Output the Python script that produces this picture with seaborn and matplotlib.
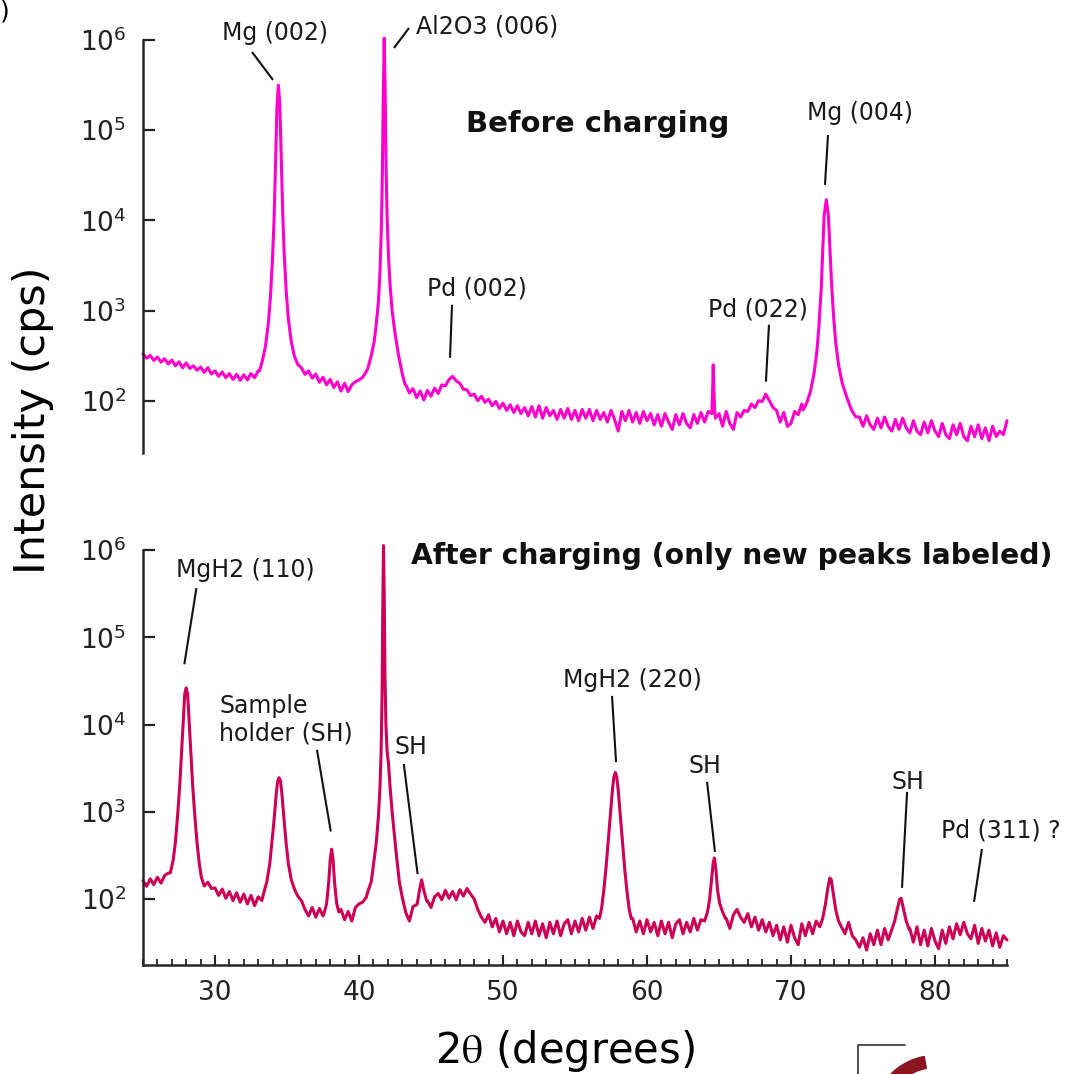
import numpy as np
import pandas as pd
import matplotlib
matplotlib.use("Agg")
import matplotlib.pyplot as plt
from matplotlib.ticker import MultipleLocator, NullLocator, FixedLocator
from matplotlib.lines import Line2D
from matplotlib.patches import Wedge
import seaborn as sns

nan = np.nan

# ---------------- data (2-theta in degrees, intensity in cps) ----------------
scan_start, scan_step = 25.0, 0.25

# Before charging: baseline scan (nan where a peak profile below takes over)
before_base = [
    330, 296, 318, 280,   # 25
    305, 268, 292, 255,   # 26
    282, 244, 270, 232,   # 27
    262, 228, 244, 218,   # 28
    236, 206, 232, 198,   # 29
    214, 186, 208, 180,   # 30
    200, 172, 196, 168,   # 31
    194, 170, 200, 180,   # 32
    214, nan, nan, nan,   # 33
    nan, nan, nan, nan,   # 34
    nan, nan, nan, nan,   # 35
    232, 196, 214, 178,   # 36
    198, 160, 182, 150,   # 37
    172, 140, 162, 128,   # 38
    156, 126, 150, 162,   # 39
    170, 182, nan, nan,   # 40
    nan, nan, nan, nan,   # 41
    nan, nan, nan, nan,   # 42
    nan, 150, 122, 136,   # 43
    108, 128, 102, 130,   # 44
    112, 138, 120, 150,   # 45
    146, 172, 186, 166,   # 46
    156, 134, 132, 114,   # 47
    118, 100, 112, 96,    # 48
    104, 88, 98, 82,      # 49
    94, 78, 90, 74,       # 50
    88, 72, 84, 68,       # 51
    86, 66, 88, 64,       # 52
    84, 68, 78, 62,       # 53
    80, 64, 82, 62,       # 54
    78, 60, 80, 64,       # 55
    80, 60, 78, 62,       # 56
    74, 58, 78, 62,       # 57
    46, 76, 60, 78,       # 58
    58, 74, 56, 76,       # 59
    60, 72, 54, 70,       # 60
    52, 72, 58, 48,       # 61
    70, 54, 72, 56,       # 62
    50, 70, 56, 74,       # 63
    58, 76, nan, 64,      # 64
    72, 52, 76, 56,       # 65
    48, 74, 66, 78,       # 66
    76, 92, 84, 100,      # 67
    98, 118, 100, 84,     # 68
    78, 58, 74, 52,       # 69
    56, 76, 70, 92,       # 70
    nan, nan, nan, nan,   # 71
    nan, nan, nan, nan,   # 72
    nan, nan, nan, nan,   # 73
    nan, nan, nan, 66,    # 74
    52, 68, 54, 48,       # 75
    64, 50, 66, 52,       # 76
    46, 62, 48, 64,       # 77
    50, 44, 60, 46,       # 78
    42, 58, 44, 60,       # 79
    46, 40, 56, 42,       # 80
    38, 54, 42, 56,       # 81
    40, 36, 52, 40,       # 82
    54, 38, 50, 36,       # 83
    52, 40, 46, 42,       # 84
    60,                   # 85
]

# Before charging: peak profiles
mg002_x = [33.1, 33.3, 33.5, 33.7, 33.85, 34.0, 34.1, 34.2, 34.3, 34.4,
           34.5, 34.6, 34.7, 34.8, 34.95, 35.1, 35.3, 35.5, 35.75, 35.95]
mg002_y = [215, 282, 398, 710, 1410, 3980, 10000, 39800, 178000, 316000,
           200000, 50100, 12600, 4470, 1580, 790, 450, 316, 251, 235]
al2o3_top_x = [40.3, 40.6, 40.85, 41.05, 41.2, 41.35, 41.45, 41.55, 41.62, 41.68, 41.75,
               41.82, 41.88, 41.95, 42.05, 42.15, 42.3, 42.5, 42.75, 43.0, 43.2]
al2o3_top_y = [186, 224, 316, 447, 710, 1260, 2510, 7940, 31600, 200000, 1050000,
               251000, 39800, 11200, 3980, 2000, 1000, 562, 316, 200, 151]
spike_x = [64.5, 64.55, 64.6, 64.65, 64.7]
spike_y = [72, 120, 250, 125, 74]
mg004_x = [70.85, 71.1, 71.35, 71.6, 71.8, 71.95, 72.1, 72.2, 72.3, 72.45,
           72.6, 72.7, 72.8, 72.95, 73.1, 73.3, 73.55, 73.85, 74.2, 74.5]
mg004_y = [79, 95, 126, 200, 355, 708, 1778, 4467, 11220, 16982,
           11220, 5012, 2239, 891, 447, 251, 158, 112, 79, 66]

# After charging: baseline scan
after_base = [
    162, 140, 170, 146,   # 25
    178, 152, 186, 198,   # 26
    nan, nan, nan, nan,   # 27
    nan, nan, nan, nan,   # 28
    nan, nan, 156, 132,   # 29
    134, 110, 130, 102,   # 30
    122, 96, 118, 92,     # 31
    114, 88, 110, 84,     # 32
    106, 96, nan, nan,    # 33
    nan, nan, nan, nan,   # 34
    nan, nan, nan, 108,   # 35
    96, 76, 64, 80,       # 36
    62, 78, 64, nan,      # 37
    nan, nan, nan, 76,    # 38
    58, 72, 56, 80,       # 39
    88, 92, 104, nan,     # 40
    nan, nan, nan, nan,   # 41
    nan, nan, nan, nan,   # 42
    nan, 70, 56, 82,      # 43
    86, nan, nan, 96,     # 44
    80, 106, 116, 98,     # 45
    126, 102, 122, 98,    # 46
    128, 108, 132, 114,   # 47
    100, 76, 62, 54,      # 48
    66, 48, 60, 42,       # 49
    56, 40, 54, 38,       # 50
    56, 42, 38, 54,       # 51
    40, 56, 38, 52,       # 52
    36, 54, 40, 56,       # 53
    38, 52, 58, 40,       # 54
    56, 42, 60, 44,       # 55
    62, 46, 64, nan,      # 56
    nan, nan, nan, nan,   # 57
    nan, nan, nan, nan,   # 58
    60, 42, 56, 40,       # 59
    58, 42, 54, 38,       # 60
    56, 40, 54, 36,       # 61
    52, 58, 40, 54,       # 62
    42, 60, 44, 58,       # 63
    nan, nan, nan, nan,   # 64
    nan, nan, 60, 46,     # 65
    66, 76, 62, 54,       # 66
    68, 48, 62, 44,       # 67
    58, 42, 54, 38,       # 68
    50, 34, 48, 32,       # 69
    50, 36, 30, 52,       # 70
    38, 54, 40, 56,       # 71
    nan, nan, nan, nan,   # 72
    nan, nan, nan, 40,    # 73
    54, 38, 34, 28,       # 74
    36, 26, 40, 30,       # 75
    44, 30, 46, 34,       # 76
    nan, nan, nan, nan,   # 77
    nan, 46, 32, 48,      # 78
    30, 44, 29, 46,       # 79
    33, 27, 44, 31,       # 80
    48, 35, 52, 39,       # 81
    54, 40, 35, 50,       # 82
    31, 46, 33, 44,       # 83
    29, 41, 28, 38,       # 84
    34,                   # 85
]

# After charging: peak profiles
mgh2_110_x = [26.9, 27.1, 27.25, 27.4, 27.55, 27.68, 27.8, 27.9, 28.0,
              28.1, 28.2, 28.32, 28.45, 28.6, 28.75, 28.9, 29.05, 29.25]
mgh2_110_y = [200, 282, 447, 891, 1995, 5012, 11220, 22387, 26303,
              22387, 11220, 5012, 1995, 891, 447, 263, 178, 141]
mg002_after_x = [33.4, 33.6, 33.8, 33.95, 34.1, 34.25, 34.35, 34.45,
                 34.55, 34.65, 34.8, 34.95, 35.1, 35.3, 35.55]
mg002_after_y = [120, 158, 251, 447, 794, 1585, 2239, 2455,
                 2239, 1585, 794, 417, 251, 166, 126]
sh38_x = [37.6, 37.75, 37.9, 38.0, 38.1, 38.2, 38.3, 38.45, 38.6]
sh38_y = [71, 89, 158, 282, 372, 282, 158, 89, 71]
al2o3_after_x = [40.6, 40.85, 41.05, 41.2, 41.35, 41.45, 41.53, 41.6, 41.65, 41.7, 41.75,
                 41.8, 41.87, 41.95, 42.05, 42.15, 42.3, 42.45, 42.6, 42.8, 43.0]
al2o3_after_y = [120, 158, 282, 447, 891, 1778, 4467, 19953, 199526, 1122018, 316228,
                 39811, 10000, 5012, 3548, 1995, 1000, 562, 316, 158, 105]
sh44_x = [44.05, 44.2, 44.35, 44.5, 44.7]
sh44_y = [89, 126, 166, 126, 95]
mgh2_220_x = [56.7, 56.85, 57.0, 57.15, 57.3, 57.45, 57.6, 57.7, 57.8,
              57.9, 58.0, 58.15, 58.3, 58.45, 58.6, 58.75, 58.9]
mgh2_220_y = [60, 79, 126, 224, 447, 891, 1778, 2512, 2818,
              2512, 1778, 891, 447, 224, 126, 79, 60]
sh64_x = [64.0, 64.2, 64.35, 64.5, 64.6, 64.68, 64.78, 64.9, 65.05, 65.25, 65.45]
sh64_y = [56, 71, 100, 178, 263, 295, 224, 126, 89, 71, 60]
p72_x = [72.0, 72.2, 72.4, 72.55, 72.7, 72.8, 72.95, 73.1, 73.3, 73.5]
p72_y = [48, 60, 89, 132, 174, 166, 112, 76, 56, 48]
sh77_x = [77.0, 77.2, 77.4, 77.55, 77.65, 77.8, 78.0, 78.2]
sh77_y = [45, 56, 79, 100, 102, 79, 56, 45]

x_ticks = [30, 40, 50, 60, 70, 80]

before_labels = [  # text, x, log10 y, ha, leader line (x0, log0, x1, log1)
    ("Mg (002)", 34.17, 6.078, "center", (32.57, 5.867, 34.03, 5.557)),
    ("Al2O3 (006)", 43.96, 6.155, "left", (42.43, 5.911, 43.47, 6.133)),
    ("Pd (002)", 48.19, 3.241, "center", (46.46, 3.064, 46.32, 2.476)),
    ("Pd (022)", 67.71, 3.008, "center", (68.47, 2.842, 68.26, 2.211)),
    ("Mg (004)", 74.79, 5.19, "center", (72.57, 4.947, 72.36, 4.393)),
]
after_labels = [
    ("MgH2 (110)", 32.1, 5.77, "center", (28.71, 5.564, 27.87, 4.69)),
    ("Sample\nholder (SH)", 30.31, 4.053, "left", (37.08, 3.711, 38.04, 2.774)),
    ("SH", 43.59, 3.743, "center", (43.11, 3.548, 44.07, 2.285)),
    ("MgH2 (220)", 58.96, 4.51, "center", (57.57, 4.328, 57.85, 3.57)),
    ("SH", 64.03, 3.526, "center", (64.17, 3.343, 64.72, 2.54)),
    ("SH", 78.13, 3.343, "center", (78.06, 3.228, 77.71, 2.128)),
    ("Pd (311) ?", 84.58, 2.78, "center", (83.26, 2.575, 82.71, 1.968)),
]


def build(base, peaks):
    base = np.asarray(base, dtype=float)
    bx = scan_start + scan_step * np.arange(len(base))
    keep = ~np.isnan(base)
    for px, _ in peaks:
        keep &= ~((bx >= min(px)) & (bx <= max(px)))
    xs = np.concatenate([bx[keep]] + [np.asarray(p[0], float) for p in peaks])
    ys = np.concatenate([base[keep]] + [np.asarray(p[1], float) for p in peaks])
    order = np.argsort(xs)
    return pd.DataFrame({"two_theta": xs[order], "intensity": ys[order]})


before_df = build(before_base, [(mg002_x, mg002_y), (al2o3_top_x, al2o3_top_y),
                                (spike_x, spike_y), (mg004_x, mg004_y)])
after_df = build(after_base, [(mgh2_110_x, mgh2_110_y), (mg002_after_x, mg002_after_y),
                              (sh38_x, sh38_y), (al2o3_after_x, al2o3_after_y),
                              (sh44_x, sh44_y), (mgh2_220_x, mgh2_220_y),
                              (sh64_x, sh64_y), (p72_x, p72_y), (sh77_x, sh77_y)])

# ---------------- figure ----------------
sns.set_style("ticks")
plt.rcParams["font.family"] = ["DejaVu Sans"]
plt.rcParams["mathtext.fontset"] = "stix"

W, H = 1067, 1074
fig = plt.figure(figsize=(W / 100, H / 100), dpi=100)
ax1 = fig.add_axes([143 / W, 1 - 453 / H, 864 / W, (453 - 40) / H])
ax2 = fig.add_axes([143 / W, 1 - 965 / H, 864 / W, (965 - 550) / H])

sns.lineplot(data=before_df, x="two_theta", y="intensity", ax=ax1, color="#FF00CC",
             linewidth=2.2, estimator=None, sort=False)
sns.lineplot(data=after_df, x="two_theta", y="intensity", ax=ax2, color="#CC0055",
             linewidth=2.2, estimator=None, sort=False)
for ax in (ax1, ax2):
    for ln in ax.lines:
        ln.set_clip_on(False)
        ln.set_solid_joinstyle("round")

for ax, ylo in ((ax1, 10 ** 1.42), (ax2, 10 ** 1.244)):
    ax.set_yscale("log")
    ax.set_xlim(25, 85)
    ax.set_ylim(ylo, 1e6)
    ax.yaxis.set_major_locator(FixedLocator([1e2, 1e3, 1e4, 1e5, 1e6]))
    ax.yaxis.set_minor_locator(NullLocator())
    ax.set_xlabel("")
    ax.set_ylabel("")
    ax.tick_params(axis="y", which="major", direction="in", length=8.5, width=1.6,
                   labelsize=19, pad=12, colors="#222222")
    for s in ("top", "right"):
        ax.spines[s].set_visible(False)
    ax.spines["left"].set_linewidth(1.8)

ax1.spines["bottom"].set_visible(False)
ax1.tick_params(axis="x", which="both", bottom=False, labelbottom=False)

ax2.spines["bottom"].set_linewidth(1.8)
ax2.xaxis.set_major_locator(FixedLocator(x_ticks))
ax2.xaxis.set_minor_locator(MultipleLocator(1))
ax2.tick_params(axis="x", which="major", direction="in", length=7, width=1.5,
                labelsize=19, pad=11, colors="#222222")
ax2.tick_params(axis="x", which="minor", direction="in", length=4.5, width=1.3)

for ax, labels in ((ax1, before_labels), (ax2, after_labels)):
    for txt, tx, tl, ha, (x0, l0, x1, l1) in labels:
        ax.text(tx, 10 ** tl, txt, ha=ha, va="center", fontsize=17, color="#1a1a1a")
        ax.plot([x0, x1], [10 ** l0, 10 ** l1], color="#111111", lw=1.5,
                clip_on=False, solid_capstyle="butt")

ax1.text(47.43, 10 ** 5.07, "Before charging", ha="left", va="center",
         fontsize=21, fontweight="bold", color="#111111")
ax2.text(43.6, 10 ** 5.93, "After charging (only new peaks labeled)", ha="left",
         va="center", fontsize=20.3, fontweight="bold", color="#111111")

fig.text(33 / W, 1 - 420 / H, "Intensity (cps)", rotation=90, ha="center",
         va="center", fontsize=31, color="black")
fig.text(565 / W, 1 - 1051 / H, r"2$\mathrm{\theta}$ (degrees)", ha="center",
         va="center", fontsize=30, color="black")

# fragments at the picture edges (panel letter and logo)
fig.text(0.0, 1.0, ")", ha="left", va="top", fontsize=18, color="black")
fig.add_artist(Line2D([858 / W, 858 / W, 905 / W], [0.0, 1 - 1045 / H, 1 - 1045 / H],
                      color="#333333", lw=1.2, transform=fig.transFigure))
fig.add_artist(Wedge((935 / W, 1 - 1118 / H), 62 / W, 100, 155, width=12 / W,
                     color="#8B1520", transform=fig.transFigure))

fig.savefig("out.png", dpi=100)
